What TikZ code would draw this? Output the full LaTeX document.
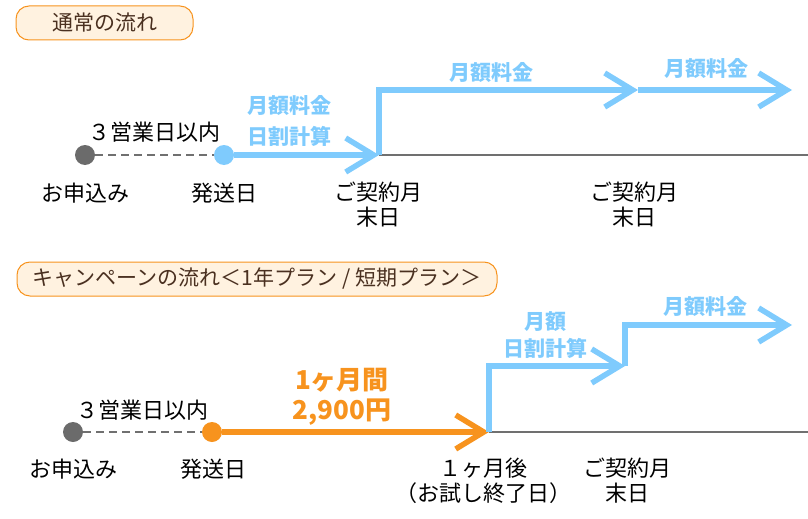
\documentclass[tikz,border=0pt]{standalone}
\usepackage{fontspec}
\setmainfont{Noto Sans CJK JP}
\usetikzlibrary{arrows.meta,positioning}
\definecolor{planblue}{HTML}{7FCBFD}
\definecolor{planorange}{HTML}{F7931E}
\definecolor{dotgray}{HTML}{6B6B6B}
\definecolor{linegray}{HTML}{707070}
\definecolor{tagfill}{HTML}{FFF2E0}
\definecolor{tagtext}{HTML}{4A3020}
\tikzset{
    tag/.style = {
        draw = planorange,
        fill = tagfill,
        text = tagtext,
        line width = 1pt,
        rounded corners = 13pt,
        minimum height = 34pt,
        font = \fontsize{21}{21}\selectfont,
        },
    dot/.style = {
        circle,
        minimum size = 20pt,
        inner sep = 0pt,
        },
    base/.style = {
        draw = linegray,
        line width = 2pt,
        },
    wait/.style = {
        draw = linegray,
        line width = 2pt,
        dash pattern = on 8pt off 5pt,
        },
    pay/.style = {
        draw = planblue,
        line width = 5.5pt,
        -{Straight Barb[length=28pt,width=34pt]},
        },
    trial/.style = {
        pay,
        draw = planorange,
        },
    day/.style = {
        align = center,
        inner sep = 0pt,
        font = \fontsize{22}{25}\selectfont,
        },
    fee/.style = {
        align = center,
        inner sep = 0pt,
        text = planblue,
        font = \bfseries\fontsize{21}{31}\selectfont,
        },
    price/.style = {
        align = center,
        inner sep = 0pt,
        text = planorange,
        font = \bfseries\fontsize{26}{30}\selectfont,
        },
}
\begin{document}
\begin{tikzpicture}[x=1pt,y=-1pt]
    \useasboundingbox (0,0) rectangle (808,519);

    % 通常の流れ
    \node[tag, minimum width=177pt] (tag1) at (104.5,23) {通常の流れ};
    \node[dot, fill=dotgray] (ord1) at (85,155) {};
    \node[dot, fill=planblue] (ship1) at (224,155) {};
    \coordinate (mon1) at (379,155);
    \coordinate (end1) at (808,155);
    \coordinate (up1) at (379,90);
    \coordinate (mid1) at (638,90);
    \coordinate (fin1) at (792,90);

    \draw[base] (mon1) -- (end1);
    \draw[wait] (ord1) -- (ship1);
    \draw[pay] (ship1) -- (mon1);
    \draw[pay] (mon1) -- (up1) -- (mid1);
    \draw[pay] (mid1) -- (fin1);

    \node[day] (lim1) at (154,132) {３営業日以内};
    \node[day] (ordlbl1) at (85,193) {お申込み};
    \node[day] (shiplbl1) at (224,193) {発送日};
    \node[day] (monlbl1) at (378,205) {ご契約月\\末日};
    \node[day] (midlbl1) at (634,205) {ご契約月\\末日};
    \node[fee] (fee1) at (289,121) {月額料金\\日割計算};
    \node[fee] (fee2) at (491,72) {月額料金};
    \node[fee] (fee3) at (706,68) {月額料金};

    % キャンペーンの流れ
    \node[tag, minimum width=480pt] (tag2) at (257,279) {キャンペーンの流れ＜1年プラン / 短期プラン＞};
    \node[dot, fill=dotgray] (ord2) at (73,432) {};
    \node[dot, fill=planorange] (ship2) at (212,432) {};
    \coordinate (try2) at (489,432);
    \coordinate (end2) at (808,432);
    \coordinate (up2) at (489,366);
    \coordinate (mid2) at (625,366);
    \coordinate (up3) at (625,325);
    \coordinate (fin2) at (792,325);

    \draw[base] (try2) -- (end2);
    \draw[wait] (ord2) -- (ship2);
    \draw[trial] (ship2) -- (try2);
    \draw[pay] (try2) -- (up2) -- (mid2);
    \draw[pay] (mid2) -- (up3) -- (fin2);

    \node[day] (lim2) at (142,410) {３営業日以内};
    \node[day] (ordlbl2) at (73,469) {お申込み};
    \node[day] (shiplbl2) at (213,469) {発送日};
    \node[day] (trylbl2) at (483,481) {１ヶ月後\\（お試し終了日）};
    \node[day] (midlbl2) at (627,481) {ご契約月\\末日};
    \node[price] (price2) at (342,397) {1ヶ月間\\2,900円};
    \node[fee, font=\bfseries\fontsize{21}{27}\selectfont] (fee4) at (545,335) {月額\\日割計算};
    \node[fee] (fee5) at (705,306) {月額料金};
\end{tikzpicture}
\end{document}
